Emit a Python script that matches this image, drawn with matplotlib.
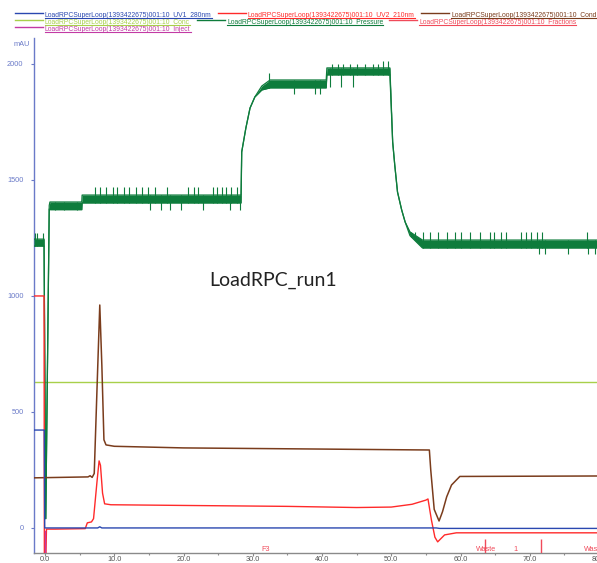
import matplotlib
matplotlib.use("Agg")
import matplotlib.pyplot as plt
from matplotlib.lines import Line2D
import numpy as np

# ---------------- data ----------------
uv1_x = [-1.6, -0.12, -0.05, 7.6, 7.9, 8.2, 56.5, 57.0, 80.0]
uv1_y = [422, 422, 0, 0, 5, 0, 0, -2, -2]

uv2_x = [-1.6, -0.15, -0.1, 0.1, 0.2, 1.5, 5.8, 6.1, 6.7, 7.0, 7.5, 7.8, 8.0, 8.3, 8.6,
         9.5, 20.0, 35.0, 45.0, 50.0, 53.0, 55.0, 55.3, 55.8, 56.3, 56.7, 57.7, 59.4, 80.0]
uv2_y = [1000, 1000, -150, -150, -5, -5, -3, 22, 26, 40, 200, 289, 270, 150, 104,
         100, 97, 93, 88, 90, 102, 120, 125, 34, -40, -60, -30, -21, -21]

cond_x = [-1.6, 6.2, 6.5, 6.8, 7.1, 7.5, 7.9, 8.2, 8.5, 8.8, 10.0, 20.0, 40.0, 55.5,
          55.7, 56.2, 56.9, 57.4, 58.0, 58.7, 59.9, 80.0]
cond_y = [216, 220, 225, 218, 235, 600, 961, 700, 380, 358, 352, 345, 340, 336,
          250, 80, 30, 70, 134, 185, 222, 224]

conc_x = [-1.6, 80.0]
conc_y = [630, 630]

inject_x = [0.0, 0.0]
inject_y = [-110, -12]

# pressure: envelope of the noisy trace (lower / upper)
pres_x = [-1.6, -0.15, 0.1, 0.6, 0.7, 5.3, 5.35, 28.3, 28.4, 29.0, 29.6, 30.3, 31.3,
          32.5, 40.6, 40.7, 49.8, 50.2, 50.5, 50.9, 51.5, 52.0, 52.7, 54.5, 80.0]
pres_lo = [1215, 1215, 40, 1375, 1372, 1372, 1401, 1401, 1621, 1724, 1810, 1858, 1888,
           1897, 1897, 1953, 1953, 1664, 1565, 1448, 1371, 1319, 1260, 1207, 1207]
pres_hi = [1245, 1245, 40, 1390, 1405, 1405, 1435, 1435, 1621, 1724, 1810, 1858, 1905,
           1931, 1931, 1983, 1983, 1664, 1565, 1448, 1371, 1319, 1276, 1241, 1241]
# spikes of the pressure trace
spike_up_x = [-1.4, -1.1, -0.3, 7.2, 8.0, 8.8, 9.8, 10.4, 11.4, 12.1, 13.1, 14.0, 14.8,
              15.9, 17.6, 20.7, 21.5, 22.1, 24.2, 24.8, 25.5, 26.2, 26.9, 27.7,
              32.4, 41.5, 42.3, 43.0, 44.0, 45.0, 46.2, 47.3, 48.1, 48.8, 49.5,
              52.9, 53.4, 54.6, 55.6, 56.8, 58.0, 59.2, 60.1, 61.3, 62.8, 64.2, 64.9,
              65.9, 66.6, 68.8, 69.5, 70.2, 71.0, 71.7, 78.2]
spike_up_y = [1271, 1271, 1271, 1470, 1470, 1470, 1470, 1470, 1470, 1470, 1470, 1470, 1470,
              1470, 1470, 1470, 1470, 1470, 1470, 1470, 1470, 1470, 1470, 1470,
              1960, 2000, 2000, 1998, 2000, 2000, 1998, 2000, 2000, 2013, 2013,
              1276, 1276, 1276, 1276, 1276, 1276, 1276, 1276, 1276, 1276, 1276, 1276,
              1276, 1276, 1276, 1276, 1276, 1276, 1276, 1276]
spike_dn_x = [1.5, 2.8, 4.6, 15.2, 16.7, 18.0, 19.6, 22.8, 26.7, 28.2,
              36.0, 39.0, 39.7, 41.1, 42.8, 44.5,
              71.4, 72.2, 75.5, 78.4, 79.4]
spike_dn_y = [1372, 1372, 1372, 1371, 1371, 1371, 1371, 1371, 1371, 1371,
              1870, 1870, 1870, 1900, 1900, 1900,
              1181, 1181, 1181, 1181, 1181]

frac_x = [63.6, 71.6]
frac_labels = ["F3", "Waste", "1", "Waste"]
frac_label_x = [31.2, 62.3, 67.7, 77.9]

series_names = ["LoadRPCSuperLoop(1393422675)001:10_UV1_280nm",
                "LoadRPCSuperLoop(1393422675)001:10_UV2_210nm",
                "LoadRPCSuperLoop(1393422675)001:10_Cond",
                "LoadRPCSuperLoop(1393422675)001:10_Conc",
                "LoadRPCSuperLoop(1393422675)001:10_Pressure",
                "LoadRPCSuperLoop(1393422675)001:10_Fractions",
                "LoadRPCSuperLoop(1393422675)001:10_Inject"]

# ---------------- style ----------------
C_UV1 = "#2a48b0"
C_UV2 = "#ff2a2a"
C_COND = "#7a3c1c"
C_CONC = "#a8d04a"
C_PRES = "#0e7c3c"
C_FRAC = "#f04a5a"
C_INJ = "#c23aa4"
C_AXIS = "#6a7ac8"

W, H = 597, 563
fig = plt.figure(figsize=(W / 100, H / 100), dpi=100)
ax_left, ax_right, ax_bot, ax_top = 34, 599, 553, 38
ax = fig.add_axes([ax_left / W, (H - ax_bot) / H, (ax_right - ax_left) / W, (ax_bot - ax_top) / H])
ax.set_xlim(-1.6, 80)
ax.set_ylim(-108, 2112)
ax.patch.set_alpha(0)

ax.plot(conc_x, conc_y, color=C_CONC, lw=1.0, zorder=2)
ax.fill_between(pres_x, pres_lo, pres_hi, color=C_PRES, lw=0, zorder=3)
ax.plot(pres_x, pres_lo, color=C_PRES, lw=0.9, zorder=3)
ax.plot(pres_x, pres_hi, color=C_PRES, lw=0.9, zorder=3)
ax.vlines(spike_up_x, np.interp(spike_up_x, pres_x, pres_lo), spike_up_y, color=C_PRES, lw=0.8, zorder=3)
ax.vlines(spike_dn_x, spike_dn_y, np.interp(spike_dn_x, pres_x, pres_hi), color=C_PRES, lw=0.8, zorder=3)
ax.plot(cond_x, cond_y, color=C_COND, lw=1.1, zorder=4)
ax.plot(uv2_x, uv2_y, color=C_UV2, lw=1.0, zorder=5)
ax.plot(uv1_x, uv1_y, color=C_UV1, lw=1.0, zorder=6)
ax.plot(inject_x, inject_y, color=C_INJ, lw=1.0, zorder=6)
ax.vlines(frac_x, -108, -47, color=C_FRAC, lw=1.0, zorder=6)
for lab, lx in zip(frac_labels, frac_label_x):
    ax.text(lx, -92, lab, color=C_FRAC, fontsize=5.2, family="Liberation Sans",
            ha="left", va="center", clip_on=False)

ax.text(32.9, 1069, "LoadRPC_run1", fontsize=14, family="Lato", color="#222222",
        ha="center", va="center")

for s in ["top", "right"]:
    ax.spines[s].set_visible(False)
ax.spines["left"].set_color(C_AXIS)
ax.spines["left"].set_linewidth(1.0)
ax.spines["bottom"].set_color("#8a8a8a")
ax.spines["bottom"].set_linewidth(1.0)

ax.set_yticks([0, 500, 1000, 1500, 2000])
ax.set_yticks([-250 + 250 * i for i in range(1, 9, 2)], minor=True)
ax.set_xticks(np.arange(0, 81, 10))
ax.set_xticklabels([f"{v:.1f}" for v in np.arange(0, 81, 10)])
ax.set_xticks(np.arange(5, 81, 10), minor=True)
ax.tick_params(axis="y", which="major", length=2.5, width=0.8, color=C_AXIS,
               labelcolor=C_AXIS, labelsize=5.3, pad=5)
ax.tick_params(axis="y", which="minor", length=1.5, width=0.8, color=C_AXIS)
ax.tick_params(axis="x", which="major", length=2.0, width=0.8, color="#8a8a8a",
               labelcolor="#555555", labelsize=5.3, pad=0.5)
ax.tick_params(axis="x", which="minor", length=1.5, width=0.8, color="#8a8a8a")
for lab in ax.get_xticklabels() + ax.get_yticklabels():
    lab.set_family("Liberation Sans")

fig.text(14 / W, 1 - 44 / H, "mAU", fontsize=5.3, color=C_AXIS, family="Liberation Sans",
         ha="left", va="center")

# ---------------- legend (header) ----------------
leg_colors = [C_UV1, C_UV2, C_COND, C_CONC, C_PRES, C_FRAC, C_INJ]
leg_pos = [(15, 13), (218, 13), (421, 13), (15, 20), (197, 20), (389, 20), (15, 27)]
texts = []
for name, col, (lx, ly) in zip(series_names, leg_colors, leg_pos):
    fig.add_artist(Line2D([lx / W, (lx + 28) / W], [1 - ly / H, 1 - ly / H],
                          color=col, lw=1.0, transform=fig.transFigure))
    t = fig.text((lx + 30) / W, 1 - (ly + 4) / H, name, fontsize=4.9, color=col,
                 family="Liberation Sans", ha="left", va="baseline")
    texts.append((t, col))

fig.canvas.draw()
r = fig.canvas.get_renderer()
for t, col in texts:
    bb = t.get_window_extent(r).transformed(fig.transFigure.inverted())
    x0, y0 = t.get_position()
    fig.add_artist(Line2D([bb.x0, bb.x1], [y0 - 1.0 / H, y0 - 1.0 / H], color=col, lw=0.8,
                          transform=fig.transFigure))

fig.savefig("out.png", dpi=100)
